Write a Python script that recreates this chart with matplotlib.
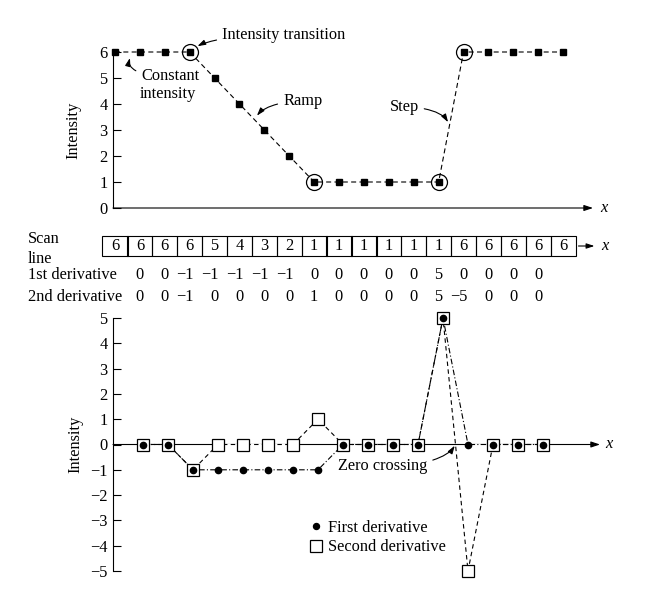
import matplotlib
matplotlib.use('Agg')
import matplotlib.pyplot as plt
from matplotlib.patches import Rectangle
from matplotlib.lines import Line2D

plt.rcParams['font.family'] = ['Liberation Serif', 'DejaVu Serif']
plt.rcParams['font.size'] = 11.8
plt.rcParams['axes.unicode_minus'] = True

FS = 11.8

# ---------------- data ----------------
scan_line = [6, 6, 6, 6, 5, 4, 3, 2, 1, 1, 1, 1, 1, 1, 6, 6, 6, 6, 6]
deriv_x = list(range(1, 18))
# values printed in the rows under the scan line
first_derivative = [0, 0, -1, -1, -1, -1, -1, 0, 0, 0, 0, 0, 5, 0, 0, 0, 0]
second_derivative = [0, 0, -1, 0, 0, 0, 0, 1, 0, 0, 0, 0, 5, -5, 0, 0, 0]
# values as drawn in the lower graph
first_derivative_plot = [0, 0, -1, -1, -1, -1, -1, -1, 0, 0, 0, 0, 5, 0, 0, 0, 0]
second_derivative_plot = [0, 0, -1, 0, 0, 0, 0, 1, 0, 0, 0, 0, 5, -5, 0, 0, 0]
top_yticks = [0, 1, 2, 3, 4, 5, 6]
bottom_yticks = [-5, -4, -3, -2, -1, 0, 1, 2, 3, 4, 5]
row_labels = ['Scan\nline', '1st derivative', '2nd derivative']
legend_labels = ['First derivative', 'Second derivative']

# ---------------- layout helpers ----------------
W, H = 660, 609
fig = plt.figure(figsize=(W / 100, H / 100), dpi=100)


def rect(l, t, r, b):
    return [l / W, (H - b) / H, (r - l) / W, (b - t) / H]


LW = 0.8
AHEAD = dict(arrowstyle='-|>,head_length=0.45,head_width=0.15', lw=LW, color='k',
             shrinkA=0, shrinkB=0)
ANN = dict(arrowstyle='-|>,head_length=0.4,head_width=0.13', lw=LW, color='k',
           shrinkA=2, shrinkB=0)

x_scan = list(range(len(scan_line)))
top_xlim = (-0.08, 19.2)

# ---------------- top plot ----------------
ax1 = fig.add_axes(rect(113, 52, 593, 208))
ax1.set_xlim(*top_xlim)
ax1.set_ylim(0, 6)
for s in ['top', 'right', 'bottom']:
    ax1.spines[s].set_visible(False)
ax1.spines['left'].set_linewidth(LW)
ax1.set_xticks([])
ax1.set_yticks(top_yticks)
ax1.tick_params(axis='y', direction='in', length=6, width=LW, pad=4, labelsize=FS)
ax1.set_ylabel('Intensity', fontsize=FS, labelpad=13)
ax1.patch.set_visible(False)

ax1.annotate('', xy=(1, 0), xytext=(0, 0), xycoords='axes fraction',
             arrowprops=AHEAD, annotation_clip=False)
ax1.annotate('x', xy=(1, 0), xycoords='axes fraction', xytext=(5, 0),
             textcoords='offset points', ha='left', va='center', style='italic',
             fontsize=FS)

ax1.plot(x_scan, scan_line, ls=(0, (4.5, 3)), lw=LW, color='k', marker='s', ms=4.3,
         mfc='k', mec='k', clip_on=False, zorder=3)
circ_x = [x for x, d in zip(deriv_x, second_derivative) if d != 0]
circ_y = [scan_line[x] for x in circ_x]
ax1.plot(circ_x, circ_y, 'o', ms=11.5, mfc='none', mec='k', mew=0.9, clip_on=False,
         zorder=4)

ax1.annotate('Intensity transition', xy=(circ_x[0], circ_y[0]), xytext=(4.3, 6.65),
             ha='left', va='center', fontsize=FS, annotation_clip=False,
             arrowprops=dict(ANN, shrinkB=7, connectionstyle='angle3,angleA=0,angleB=50'))
ax1.annotate('Constant', xy=(0.6, 5.77), xytext=(1.05, 5.07), ha='left', va='center',
             fontsize=FS,
             arrowprops=dict(ANN, connectionstyle='angle3,angleA=0,angleB=75'))
ax1.text(1.0, 4.4, 'intensity', ha='left', va='center', fontsize=FS)
ax1.annotate('Ramp', xy=(5.7, 3.55), xytext=(6.75, 4.1), ha='left', va='center',
             fontsize=FS,
             arrowprops=dict(ANN, connectionstyle='angle3,angleA=0,angleB=50'))
ax1.annotate('Step', xy=(13.38, 3.3), xytext=(12.2, 3.88), ha='right', va='center',
             fontsize=FS,
             arrowprops=dict(ANN, connectionstyle='angle3,angleA=0,angleB=-58'))

# ---------------- scan line table ----------------
axt = fig.add_axes(rect(113, 225, 593, 305))
axt.set_xlim(*top_xlim)
axt.set_ylim(305, 225)
axt.axis('off')
row_y = [246, 275, 297]
cell_w = 1.01
for i, v in enumerate(scan_line):
    axt.add_patch(Rectangle((i - cell_w / 2, 236), cell_w, 20, fill=False, lw=LW,
                            ec='k', clip_on=False))
    axt.text(i, row_y[0], str(v), ha='center', va='center', fontsize=FS)
end_x = len(scan_line) - 1 + cell_w / 2
axt.annotate('', xy=(end_x, row_y[0]), xytext=(13.5, 0), textcoords='offset points',
             arrowprops=dict(arrowstyle='<|-,head_length=0.4,head_width=0.13', lw=LW,
                             color='k', shrinkA=0, shrinkB=2),
             annotation_clip=False)
axt.annotate('x', xy=(end_x, row_y[0]), xytext=(18.5, 0), textcoords='offset points',
             ha='left', va='center', style='italic', fontsize=FS, annotation_clip=False)


def fmt(v):
    return str(v).replace('-', '\u2212')


for x, v in zip(deriv_x, first_derivative):
    axt.annotate(fmt(v), xy=(x, row_y[1]), xytext=(2.9, 0), textcoords='offset points',
                 ha='right', va='center', fontsize=FS, annotation_clip=False)
for x, v in zip(deriv_x, second_derivative):
    axt.annotate(fmt(v), xy=(x, row_y[2]), xytext=(2.9, 0), textcoords='offset points',
                 ha='right', va='center', fontsize=FS, annotation_clip=False)

fig.text(28 / W, (H - 249) / H, row_labels[0], ha='left', va='center', fontsize=FS,
         linespacing=1.35)
fig.text(28 / W, (H - row_y[1]) / H, row_labels[1], ha='left', va='center', fontsize=FS)
fig.text(28 / W, (H - row_y[2]) / H, row_labels[2], ha='left', va='center', fontsize=FS)

# ---------------- bottom plot ----------------
ax2 = fig.add_axes(rect(113, 318, 600, 571))
bot_xlim = (-0.2, 19.28)
ax2.set_xlim(*bot_xlim)
ax2.set_ylim(-5, 5)
for s in ['top', 'right', 'bottom']:
    ax2.spines[s].set_visible(False)
ax2.spines['left'].set_linewidth(LW)
ax2.set_xticks([])
ax2.set_yticks(bottom_yticks)
ax2.tick_params(axis='y', direction='in', length=6, width=LW, pad=4, labelsize=FS)
ax2.set_ylabel('Intensity', fontsize=FS, labelpad=5)
ax2.patch.set_visible(False)

ax2.annotate('', xy=(bot_xlim[1], 0), xytext=(bot_xlim[0], 0), arrowprops=AHEAD,
             annotation_clip=False, zorder=1)
ax2.annotate('x', xy=(bot_xlim[1], 0), xytext=(4, 0), textcoords='offset points',
             ha='left', va='center', style='italic', fontsize=FS, annotation_clip=False)

# erase the axis where a series runs along zero
for ys in (first_derivative_plot, second_derivative_plot):
    for i in range(len(ys) - 1):
        if ys[i] == 0 and ys[i + 1] == 0:
            ax2.plot([deriv_x[i], deriv_x[i + 1]], [0, 0], color='white', lw=2.2,
                     zorder=1.5, solid_capstyle='butt')

ax2.plot(deriv_x, first_derivative_plot, ls=(0, (5, 2, 1, 2)), lw=LW, color='k',
         zorder=2)
ax2.plot(deriv_x, second_derivative_plot, ls=(0, (4, 3)), lw=LW, color='k', zorder=2)
ax2.plot(deriv_x, second_derivative_plot, 's', ms=8.5, mfc='white', mec='k', mew=0.9,
         zorder=3, clip_on=False)
ax2.plot(deriv_x, first_derivative_plot, 'o', ms=4.5, mfc='k', mec='k', zorder=4,
         clip_on=False)

i0 = next(i for i in range(len(second_derivative_plot) - 1)
          if second_derivative_plot[i] > 0 > second_derivative_plot[i + 1])
a, b = second_derivative_plot[i0], second_derivative_plot[i0 + 1]
zx = deriv_x[i0] + a / (a - b)
ax2.annotate('Zero crossing', xy=(zx, 0), xytext=(8.8, -0.85), ha='left', va='center',
             fontsize=FS,
             arrowprops=dict(ANN, shrinkB=1, connectionstyle='angle3,angleA=0,angleB=60'))

handles = [Line2D([], [], ls='none', marker='o', ms=4.3, mfc='k', mec='k'),
           Line2D([], [], ls='none', marker='s', ms=9, mfc='white', mec='k', mew=0.9)]
ax2.legend(handles, legend_labels, loc='upper left', bbox_to_anchor=(0.403, 0.203),
           frameon=False, handlelength=0.8, handletextpad=0.35, labelspacing=0.22,
           borderpad=0, borderaxespad=0, fontsize=FS)

fig.savefig('out.png', dpi=100)
